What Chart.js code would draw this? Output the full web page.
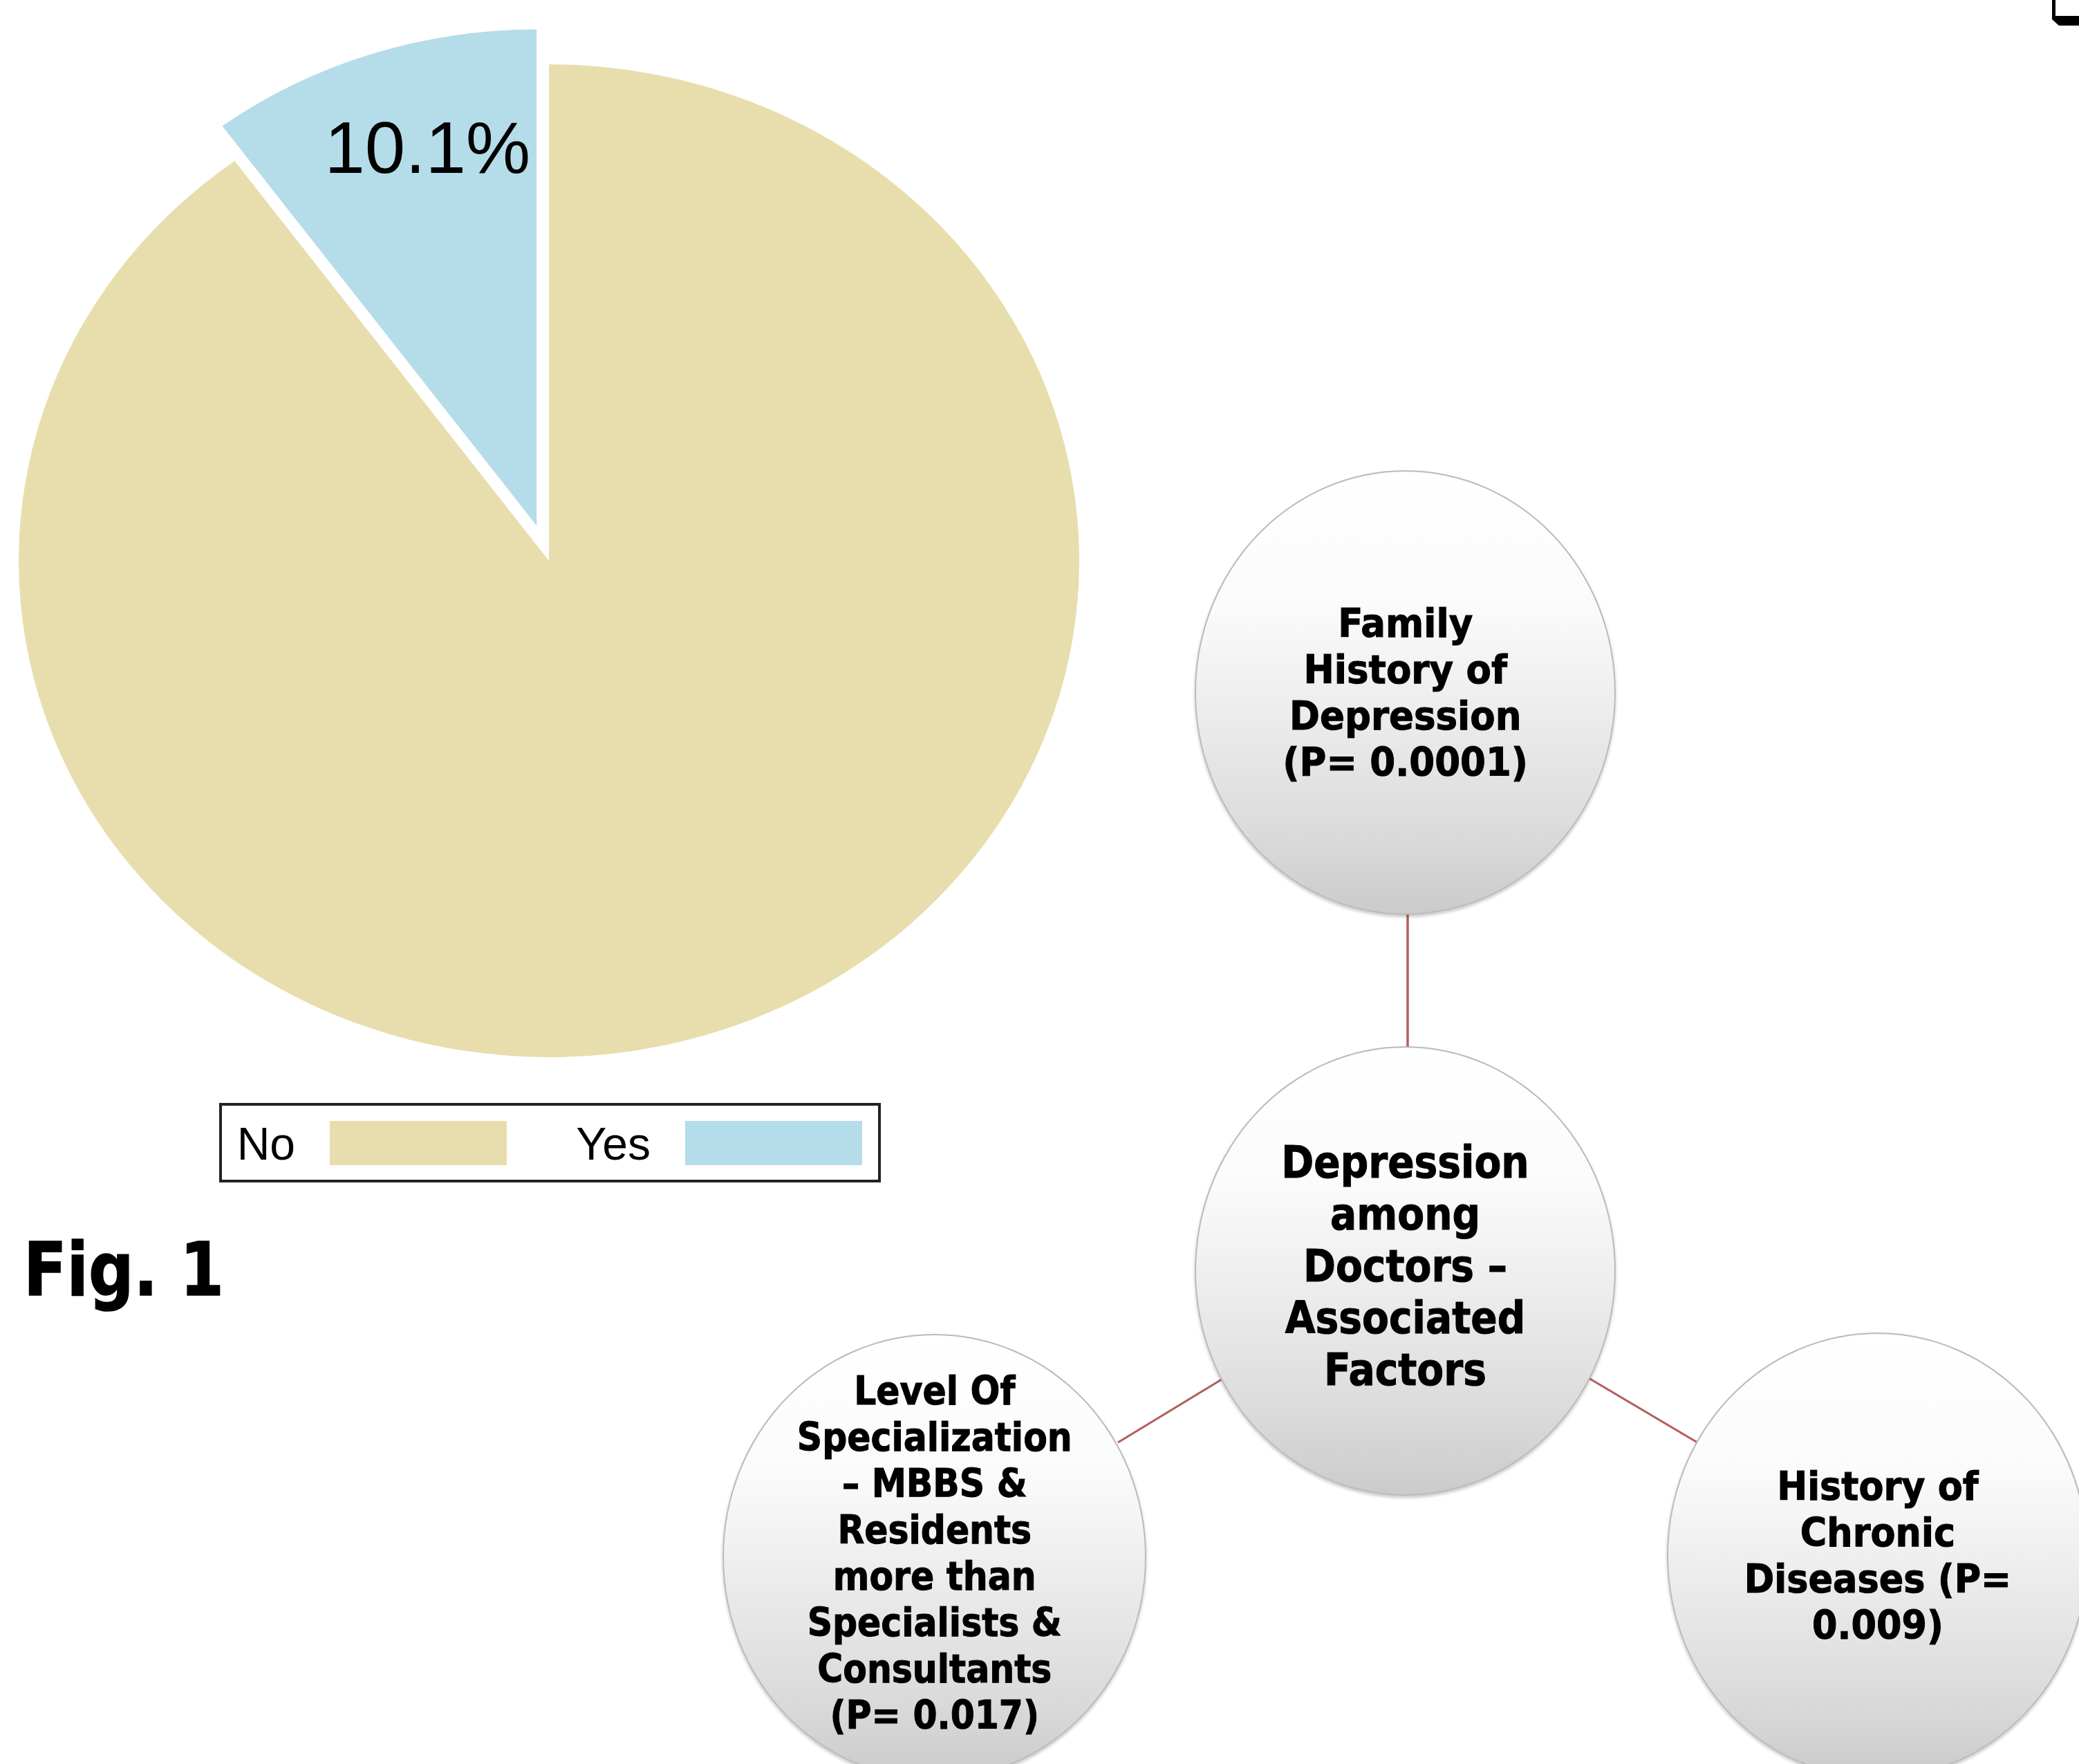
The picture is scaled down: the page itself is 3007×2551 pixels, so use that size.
<!DOCTYPE html>
<html>
<head>
<meta charset="utf-8">
<script src="https://cdn.jsdelivr.net/npm/chart.js@4"></script>
<style>
  html, body { margin: 0; padding: 0; background: #fff; }
  body { width: 3007px; height: 2551px; position: relative; overflow: hidden; }
  #pieBox { position: absolute; left: 0; top: 0; width: 1588px; height: 1622px; }
  #legend { position: absolute; left: 317px; top: 1595px; width: 957px; height: 115px;
            box-sizing: border-box; border: 4px solid #222; }
  .lg-text { position: absolute; top: 22px; font: 66px/1 "Liberation Sans", Arial, sans-serif;
             color: #000; text-align: right; width: 120px; }
  .lg-box { position: absolute; top: 22px; width: 256px; height: 64px; }
  #fig { position: absolute; left: 34px; top: 1783px; font: bold 107px/1 "DejaVu Sans", sans-serif;
         -webkit-text-stroke: 1.5px #000;
         transform: scaleX(0.856); transform-origin: left top; white-space: nowrap; }
  #links { position: absolute; left: 0; top: 0; }
  .node { position: absolute; box-sizing: border-box; border-radius: 50%;
          border: 2px solid #bababa;
          background: linear-gradient(180deg, #ffffff 0%, #fbfbfb 30%, #ececec 55%, #dcdcdc 80%, #cbcbcb 100%);
          box-shadow: 0 3px 4px rgba(0,0,0,0.22);
          display: flex; align-items: center; justify-content: center; }
  .node span { display: block; text-align: center; white-space: nowrap; color: #000;
               font-family: "DejaVu Sans", sans-serif; font-weight: bold;
               -webkit-text-stroke: 1.1px #000; }
</style>
</head>
<body>
<div id="pieBox"><canvas id="pie" width="1588" height="1622"></canvas></div>
<div id="legend"></div>
<div id="fig">Fig. 1</div>
<svg id="links" width="3007" height="2551"></svg>

<script>
// pie data
let pieLabels = ['No', 'Yes'];
let pieValues = [89.9, 10.1];
let pieColors = ['#e8dead', '#b5dce9'];

// factor diagram text (one entry per line)
let hubText = ['Depression', 'among', 'Doctors \u2013', 'Associated', 'Factors'];
let factorTop = ['Family', 'History of', 'Depression', '(P= 0.0001)'];
let factorLeft = ['Level Of', 'Specialization', '\u2013 MBBS &', 'Residents', 'more than',
                  'Specialists &', 'Consultants', '(P= 0.017)'];
let factorRight = ['History of', 'Chronic', 'Diseases (P=', '0.009)'];

const squashY = 0.936;
const explode = [0, 57];

// draws the pie a little flattened, with the small slice pulled out
// (done here because the built-in offset also grows the slice radius)
const piePainter = {
    id: 'piePainter',
    beforeDatasetDraw(chart, args) {
        let arcs = args.meta.data;
        let ctx = chart.ctx;
        let cx = arcs[0].x, cy = arcs[0].y;
        ctx.save();
        ctx.translate(cx, cy);
        ctx.scale(1, squashY);
        ctx.translate(-cx, -cy);
        arcs.forEach(function (a, i) {
            let mid = (a.startAngle + a.endAngle) / 2;
            ctx.save();
            ctx.translate(Math.cos(mid) * explode[i], Math.sin(mid) * explode[i]);
            a.draw(ctx);
            ctx.restore();
        });
        ctx.restore();
        return false;
    }
};

const sliceLabel = {
    id: 'sliceLabel',
    afterDraw(chart) {
        let a = chart.getDatasetMeta(0).data[1];
        let ctx = chart.ctx;
        ctx.save();
        ctx.font = '105px "Liberation Sans", Arial, sans-serif';
        ctx.fillStyle = '#000';
        ctx.textAlign = 'right';
        ctx.textBaseline = 'alphabetic';
        ctx.fillText(pieValues[1].toFixed(1) + '%', a.x - a.outerRadius * 0.035, a.y - a.outerRadius * 0.732);
        ctx.restore();
    }
};

let ctx = document.getElementById('pie').getContext('2d');
let chart = new Chart(ctx, {
    type: 'pie',
    data: {
        labels: pieLabels,
        datasets: [{
            data: pieValues,
            backgroundColor: pieColors,
            borderWidth: 0,
            radius: 767
        }]
    },
    options: {
        responsive: false,
        animation: false,
        events: [],
        layout: {padding: 0},
        plugins: {legend: {display: false}, tooltip: {enabled: false}}
    },
    plugins: [piePainter, sliceLabel]
});

// legend: label first, swatch after
let legend = document.getElementById('legend');
chart.data.labels.forEach(function (label, i) {
    let t = document.createElement('div');
    t.className = 'lg-text';
    t.textContent = label;
    t.style.left = (156 + i * 514 - 50 - 120) + 'px';
    legend.appendChild(t);
    let b = document.createElement('div');
    b.className = 'lg-box';
    b.style.left = (156 + i * 514) + 'px';
    b.style.background = chart.data.datasets[0].backgroundColor[i];
    legend.appendChild(b);
});

// factor diagram
function makeNode(lines, left, top, w, h, size, lh, sx, shift) {
    let n = document.createElement('div');
    n.className = 'node';
    n.style.left = left + 'px';
    n.style.top = top + 'px';
    n.style.width = w + 'px';
    n.style.height = h + 'px';
    let s = document.createElement('span');
    s.innerHTML = lines.map(function (l) { return l.replace(/&/g, '&amp;'); }).join('<br>');
    s.style.fontSize = size + 'px';
    s.style.lineHeight = lh + 'px';
    s.style.transform = 'translateY(' + shift + 'px) scaleX(' + sx + ')';
    n.appendChild(s);
    document.body.appendChild(n);
}

let svg = document.getElementById('links');
function link(x1, y1, x2, y2, w) {
    let l = document.createElementNS('http://www.w3.org/2000/svg', 'line');
    l.setAttribute('x1', x1); l.setAttribute('y1', y1);
    l.setAttribute('x2', x2); l.setAttribute('y2', y2);
    l.setAttribute('stroke', '#b35d5d');
    l.setAttribute('stroke-width', w);
    svg.appendChild(l);
}
link(2036, 1322, 2036, 1514, 3.5);
link(1770, 1993, 1617, 2086, 3);
link(2298, 1993, 2455, 2086, 3);

// corner mark at the top right edge
let mark = document.createElementNS('http://www.w3.org/2000/svg', 'polygon');
mark.setAttribute('points', '2968,0 2973,0 2973,23 3007,23 3007,37 2978,37 2968,28');
mark.setAttribute('fill', '#000');
svg.appendChild(mark);

makeNode(factorTop, 1728, 680, 609, 643, 57, 67, 0.93, 0);
makeNode(hubText, 1728, 1513, 609, 650, 64, 75, 0.885, -7);
makeNode(factorLeft, 1045, 1929, 613, 645, 57, 67, 0.885, -6);
makeNode(factorRight, 2411, 1927, 609, 645, 57, 67, 0.92, 0);
</script>
</body>
</html>
